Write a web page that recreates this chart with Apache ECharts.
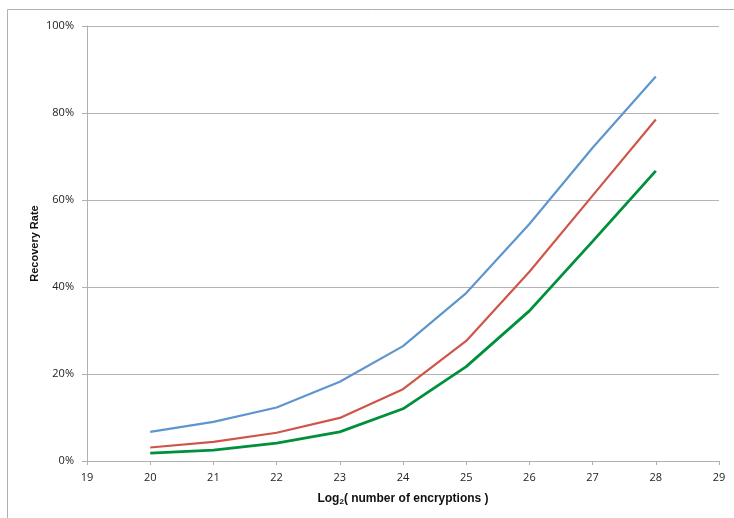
<!DOCTYPE html>
<html><head><meta charset="utf-8">
<script src="https://cdn.jsdelivr.net/npm/echarts@6/dist/echarts.min.js"></script>
<style>html,body{margin:0;padding:0;background:#fff}#c{width:734px;height:518px}</style>
</head><body><div id="c"></div>
<script>
const xValues = [20, 21, 22, 23, 24, 25, 26, 27, 28];
const blueSeries = [0.067, 0.090, 0.123, 0.182, 0.264, 0.386, 0.545, 0.720, 0.884];
const redSeries = [0.031, 0.044, 0.065, 0.099, 0.165, 0.276, 0.435, 0.610, 0.785];
const greenSeries = [0.018, 0.025, 0.041, 0.067, 0.120, 0.217, 0.345, 0.505, 0.667];
const yTicks = [0, 0.2, 0.4, 0.6, 0.8, 1.0];

const chart = echarts.init(document.getElementById('c'), null, {renderer: 'canvas'});
const pair = arr => xValues.map((x, i) => [x, arr[i]]);
const tickFont = {fontFamily: 'Open Sans, Liberation Sans, sans-serif', fontSize: 11, color: '#222'};
chart.setOption({
  animation: false,
  graphic: [{type: 'rect', shape: {x: 7.5, y: 9.5, width: 900, height: 700}, style: {fill: 'none', stroke: '#b0b0b0', lineWidth: 1}, silent: true}],
  grid: {left: 87, right: 15, top: 26, bottom: 57},
  xAxis: {
    type: 'value', min: 19, max: 29, interval: 1,
    name: '{a|Log}{s|2}{a|( number of encryptions )}', nameLocation: 'middle', nameGap: 31,
    nameMoveOverlap: false,
    nameTextStyle: {rich: {
      a: {fontFamily: 'Liberation Sans, Arial, sans-serif', fontWeight: 'bold', fontSize: 12, color: '#111'},
      s: {fontFamily: 'Liberation Sans, Arial, sans-serif', fontWeight: 'bold', fontSize: 8, color: '#111', verticalAlign: 'bottom', padding: [6, 0, 0, 0]}
    }},
    axisLine: {lineStyle: {color: '#b0b0b0', width: 1}},
    axisTick: {show: true, length: 4, inside: false, lineStyle: {color: '#b0b0b0'}},
    axisLabel: Object.assign({margin: 11}, tickFont),
    splitLine: {show: false}
  },
  yAxis: {
    type: 'value', min: 0, max: 1, interval: 0.2,
    name: 'Recovery Rate', nameLocation: 'middle', nameGap: 47,
    nameMoveOverlap: false,
    nameTextStyle: {fontFamily: 'Liberation Sans, Arial, sans-serif', fontWeight: 'bold', fontSize: 11, color: '#111'},
    axisLine: {show: true, lineStyle: {color: '#b0b0b0', width: 1}},
    axisTick: {show: true, length: 5, lineStyle: {color: '#b0b0b0'}},
    axisLabel: Object.assign({margin: 13, formatter: v => Math.round(v * 100) + '%'}, tickFont),
    splitLine: {show: true, lineStyle: {color: '#b3b3b3', width: 1}}
  },
  series: [
    {type: 'line', data: pair(blueSeries), showSymbol: false, lineStyle: {color: '#5F95CE', width: 2.2}, itemStyle: {color: '#5F95CE'}},
    {type: 'line', data: pair(redSeries), showSymbol: false, lineStyle: {color: '#CF5549', width: 2.2}, itemStyle: {color: '#CF5549'}},
    {type: 'line', data: pair(greenSeries), showSymbol: false, lineStyle: {color: '#00903C', width: 2.8}, itemStyle: {color: '#00903C'}}
  ]
});
</script></body></html>
